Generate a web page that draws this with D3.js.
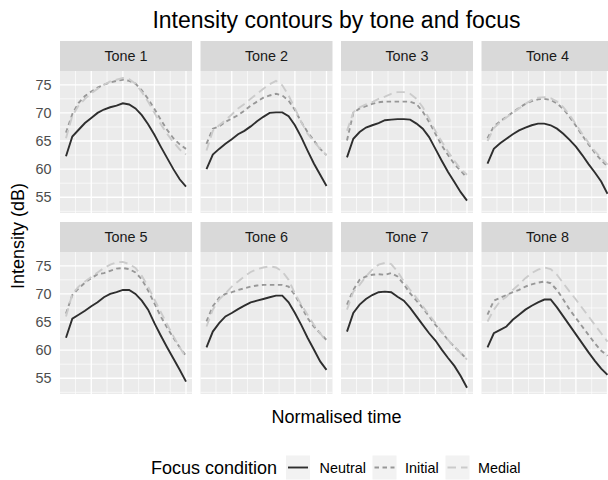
<!DOCTYPE html>
<html><head><meta charset="utf-8">
<script src="https://cdn.jsdelivr.net/npm/d3@7"></script>
<style>body{margin:0;background:#fff}svg{display:block;font-family:"Liberation Sans",Arial,sans-serif}</style>
</head><body><svg id="c" width="608" height="480"></svg>
<script>
const tones=["Tone 1","Tone 2","Tone 3","Tone 4","Tone 5","Tone 6","Tone 7","Tone 8"];
const conditions=["Neutral","Initial","Medial"];
const timePoints=[1,2,3,4,5,6,7,8,9,10,11,12,13,14,15,16,17,18,19,20];
const yTicks=[55,60,65,70,75];
const yMinor=[52.5,57.5,62.5,67.5,72.5];
const xMajor=[5,10,15,20];
const xMinor=[2.5,7.5,12.5,17.5];

const neutral=[
 [62.3,65.8,67.0,68.2,69.1,70.0,70.6,71.0,71.3,71.7,71.5,70.8,69.6,68.0,66.1,64.0,62.0,60.0,58.2,56.9],
 [60.0,62.6,63.6,64.5,65.3,66.2,66.8,67.6,68.5,69.3,70.0,70.1,70.1,69.4,67.8,65.7,63.3,61.0,59.0,57.0],
 [62.1,65.4,66.6,67.4,67.8,68.2,68.7,68.8,68.9,68.9,68.8,68.1,67.2,65.7,63.6,61.5,59.5,57.7,55.9,54.4],
 [61.0,63.6,64.6,65.4,66.2,66.9,67.4,67.8,68.1,68.1,67.8,67.2,66.3,65.2,64.0,62.5,60.9,59.4,57.8,55.6],
 [62.2,65.6,66.3,67.0,67.8,68.5,69.4,70.0,70.3,70.7,70.7,70.0,68.8,67.2,64.8,62.6,60.5,58.5,56.5,54.4],
 [60.5,63.3,64.8,66.0,66.6,67.3,67.9,68.5,68.8,69.1,69.4,69.7,69.7,68.5,66.6,64.5,62.2,60.1,58.0,56.5],
 [63.3,66.6,68.1,69.1,69.8,70.3,70.4,70.3,69.5,68.8,67.5,66.0,64.5,63.0,61.7,60.1,58.6,57.2,55.4,53.3],
 [60.5,63.0,63.6,64.2,65.4,66.3,67.2,67.9,68.5,69.0,69.0,67.6,66.0,64.4,62.8,61.2,59.6,58.1,56.7,55.6]
];
const initial=[
 [66.5,69.8,71.8,73.0,73.8,74.5,75.0,75.4,75.7,75.9,75.7,75.2,74.0,72.5,70.7,68.8,67.0,65.5,64.4,63.6],
 [64.5,67.2,67.6,68.4,69.0,69.6,70.4,71.3,72.0,72.7,73.1,73.4,73.1,72.2,70.5,68.4,66.6,65.1,63.6,62.5],
 [65.1,70.0,70.8,71.2,71.6,71.9,72.0,72.0,72.0,72.0,72.0,71.6,70.2,68.4,66.3,64.2,62.5,60.9,59.7,58.5],
 [65.5,67.6,68.5,69.3,70.1,70.9,71.6,72.1,72.4,72.5,72.3,71.7,70.7,69.3,67.7,66.0,64.4,62.9,61.6,60.5],
 [66.5,69.8,71.0,72.0,72.8,73.5,73.7,74.1,74.5,74.6,74.4,73.8,72.6,70.6,68.3,66.0,64.0,62.2,60.5,59.0],
 [65.1,67.8,69.3,70.0,70.3,70.7,71.0,71.3,71.5,71.6,71.6,71.6,71.6,71.3,69.8,67.8,65.7,64.2,63.0,61.8],
 [68.1,70.7,72.5,73.1,73.4,73.5,73.4,73.7,73.1,71.7,70.1,68.8,67.5,66.0,64.5,63.2,61.8,60.6,59.5,58.4],
 [66.3,68.8,69.3,69.8,70.3,70.7,71.3,71.7,72.0,72.2,71.9,70.7,69.0,67.2,65.7,64.2,62.7,61.2,59.9,59.0]
];
const medial=[
 [65.5,69.5,71.3,72.5,73.5,74.3,75.0,75.6,75.9,76.2,76.0,75.2,73.7,72.0,70.0,68.0,66.3,64.8,63.5,62.6],
 [63.3,66.8,67.8,68.7,69.7,70.8,71.6,72.5,73.4,74.3,75.1,75.7,74.9,73.1,70.8,68.4,66.3,64.9,63.6,62.5],
 [66.8,70.1,71.0,71.5,71.9,72.5,72.9,73.4,73.7,73.7,73.4,72.5,71.0,69.0,66.8,64.9,63.1,61.5,60.0,59.0],
 [65.0,67.3,68.3,69.2,70.0,70.8,71.6,72.3,72.7,72.8,72.6,72.0,71.0,69.6,68.0,66.3,64.7,63.2,62.0,60.8],
 [66.0,70.0,71.3,72.2,73.0,73.8,74.6,75.2,75.6,75.7,75.3,74.6,73.2,71.3,69.0,66.8,64.6,62.5,60.5,58.7],
 [64.2,67.2,69.0,70.1,71.3,72.2,73.1,73.9,74.4,74.7,74.9,74.7,74.0,72.5,70.1,68.1,66.3,64.5,63.0,61.5],
 [67.2,70.4,71.6,73.1,74.3,75.2,75.5,75.3,74.0,72.2,70.7,69.3,67.8,66.3,64.8,63.3,61.8,60.6,59.5,58.3],
 [65.1,67.2,68.7,69.5,70.7,71.7,72.8,73.7,74.3,74.7,74.4,73.4,71.9,70.4,69.0,67.5,66.0,64.5,63.0,61.5]
];
const seriesByCondition=[neutral,initial,medial];
const condColor=["#2E2E2E","#979797","#CBCBCB"];
const condDash=[null,"4.5,3.5","8.5,5"];

const svg=d3.select("#c");
const panelW=132, panelH=142, stripH=30;
const colStep=140.5, rowStep=181, left0=60, top0=41;

const x=d3.scaleLinear().domain([0.05,20.95]).range([0,panelW]);
const y=d3.scaleLinear().domain([52.2,77.45]).range([panelH,0]);
const line=d3.line().x((d,i)=>x(timePoints[i])).y(d=>y(d));

tones.forEach((tone,k)=>{
  const col=k%4,row=Math.floor(k/4);
  const px=left0+col*colStep, sy=top0+row*rowStep, py=sy+stripH;
  const g=svg.append("g").attr("transform",`translate(${px},${py})`);
  g.append("rect").attr("width",panelW).attr("height",panelH).attr("fill","#EBEBEB");
  g.selectAll(".ymin").data(yMinor).join("line").attr("x1",0).attr("x2",panelW)
    .attr("y1",d=>y(d)).attr("y2",d=>y(d)).attr("stroke","#fff").attr("stroke-width",0.65);
  g.selectAll(".xmin").data(xMinor).join("line").attr("y1",0).attr("y2",panelH)
    .attr("x1",d=>x(d)).attr("x2",d=>x(d)).attr("stroke","#fff").attr("stroke-width",0.65);
  g.selectAll(".ymaj").data(yTicks).join("line").attr("x1",0).attr("x2",panelW)
    .attr("y1",d=>y(d)).attr("y2",d=>y(d)).attr("stroke","#fff").attr("stroke-width",1.3);
  g.selectAll(".xmaj").data(xMajor).join("line").attr("y1",0).attr("y2",panelH)
    .attr("x1",d=>x(d)).attr("x2",d=>x(d)).attr("stroke","#fff").attr("stroke-width",1.3);
  seriesByCondition.forEach((ser,c)=>{
    g.append("path").attr("d",line(ser[k])).attr("fill","none")
      .attr("stroke",condColor[c]).attr("stroke-width",1.9)
      .attr("stroke-dasharray",condDash[c]);
  });
  svg.append("rect").attr("x",px).attr("y",sy).attr("width",panelW).attr("height",stripH).attr("fill","#D9D9D9");
  svg.append("text").attr("x",px+panelW/2).attr("y",sy+stripH/2).attr("text-anchor","middle")
    .attr("dominant-baseline","central").attr("font-size","14.4px").attr("fill","#1A1A1A").text(tone);
  if(col===0){
    const ax=svg.append("g").attr("transform",`translate(${px},${py})`)
      .call(d3.axisLeft(y).tickValues(yTicks).tickSize(0).tickPadding(8.5));
    ax.select(".domain").remove();
    ax.selectAll("text").attr("font-size","14.4px").attr("fill","#4D4D4D")
      .attr("font-family","'Liberation Sans',Arial,sans-serif");
  }
});

svg.append("text").attr("x",336.5).attr("y",20).attr("text-anchor","middle")
  .attr("dominant-baseline","central").attr("font-size","23px").attr("fill","#000")
  .text("Intensity contours by tone and focus");
svg.append("text").attr("transform","translate(18,236) rotate(-90)").attr("text-anchor","middle")
  .attr("dominant-baseline","central").attr("font-size","18px").attr("fill","#000").text("Intensity (dB)");
svg.append("text").attr("x",336.5).attr("y",417).attr("text-anchor","middle")
  .attr("dominant-baseline","central").attr("font-size","18px").attr("fill","#000").text("Normalised time");

const ly=467.5;
svg.append("text").attr("x",151).attr("y",ly).attr("dominant-baseline","central")
  .attr("font-size","18px").attr("fill","#000").text("Focus condition");
const keyX=[286,372.5,445.5], labX=[319.5,405,478];
conditions.forEach((c,i)=>{
  svg.append("rect").attr("x",keyX[i]).attr("y",ly-12).attr("width",24).attr("height",24).attr("fill","#F2F2F2");
  svg.append("line").attr("x1",keyX[i]+2).attr("x2",keyX[i]+22).attr("y1",ly).attr("y2",ly)
    .attr("stroke",condColor[i]).attr("stroke-width",1.9).attr("stroke-dasharray",condDash[i]);
  svg.append("text").attr("x",labX[i]).attr("y",ly).attr("dominant-baseline","central")
    .attr("font-size","14.4px").attr("fill","#000").text(c);
});
</script></body></html>
